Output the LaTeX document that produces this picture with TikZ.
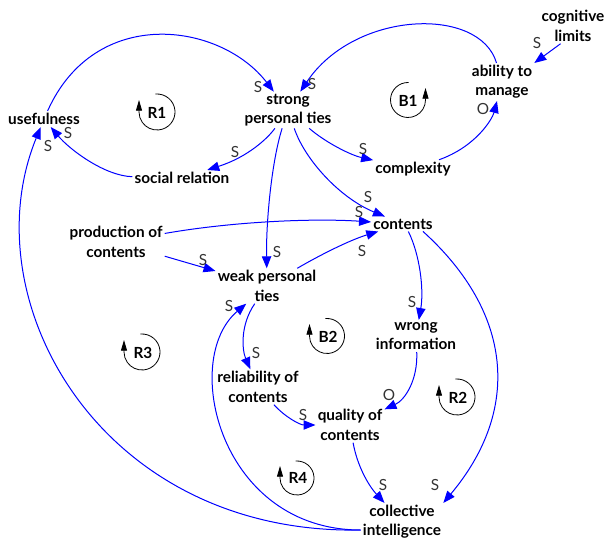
\documentclass[tikz,border=0pt]{standalone}
\usepackage{fontspec}
\setmainfont{Lato}
\usepackage{tikz}
\usetikzlibrary{arrows.meta}

\tikzset{
  var/.style={font=\fontsize{11.5}{14.5}\selectfont\bfseries, align=center, inner sep=1.5pt},
  pol/.style={font=\fontsize{11.5}{12}\selectfont, text=black!80, inner sep=0pt},
  link/.style={blue, line width=0.75pt, -{Triangle[length=9pt,width=7pt]}},
  loopmark/.style={black, line width=0.6pt, -{Triangle[length=8pt,width=4.5pt]}},
  loopname/.style={font=\fontsize{11.5}{12}\selectfont\bfseries, inner sep=0pt}
}

\begin{document}
\begin{tikzpicture}[x=0.75pt,y=-0.75pt]
  \useasboundingbox (0,0) rectangle (606,541);

  \node[var] (useful) at (44,119) {usefulness};
  \node[var] (strong) at (288,110) {strong\\personal ties};
  \node[var] (social) at (182,178) {social relation};
  \node[var] (complex) at (413,169) {complexity};
  \node[var] (ability) at (502,82) {ability to\\manage};
  \node[var] (cognit) at (573,26) {cognitive\\limits};
  \node[var] (contents) at (403,224) {contents};
  \node[var] (product) at (116,242) {production of\\contents};
  \node[var] (weak) at (267,286) {weak personal\\ties};
  \node[var] (wrong) at (416,336) {wrong\\information};
  \node[var] (reliab) at (258,387) {reliability of\\contents};
  \node[var] (quality) at (350,425) {quality of\\contents};
  \node[var] (collect) at (402,522) {collective\\intelligence};

  \draw[link] (useful) .. controls (95,5) and (220,22) .. (strong);
  \draw[link] (ability) .. controls (480,6) and (355,10) .. (strong);
  \draw[link] (strong) .. controls (268,138) and (248,157) .. (social);
  \draw[link] (social) .. controls (105,176) and (70,150) .. (useful);
  \draw[link] (strong) .. controls (325,142) and (350,155) .. (complex);
  \draw[link] (complex) .. controls (475,147) and (492,120) .. (ability);
  \draw[link] (cognit.235) -- (ability.north east);
  \draw[link] (strong) .. controls (305,160) and (340,198) .. (contents);
  \draw[link] (product) .. controls (230,222) and (310,218) .. (contents);
  \draw[link] (product) -- (weak);
  \draw[link] (strong) .. controls (272,160) and (266,220) .. (weak);
  \draw[link] (weak) .. controls (320,255) and (350,240) .. (contents);
  \draw[link] ([xshift=4pt]contents.south) .. controls (420,255) and (424,290) .. (wrong);
  \draw[link] ([xshift=15pt]contents.south) .. controls (512,312) and (522,409) .. (collect.north east);
  \draw[link] (wrong) .. controls (418,380) and (405,400) .. (quality);
  \draw[link] (weak) .. controls (240,325) and (242,350) .. (reliab);
  \draw[link] (reliab) .. controls (285,417) and (300,425) .. (quality);
  \draw[link] (quality) .. controls (357,465) and (368,485) .. (collect);
  \draw[link] ([yshift=-6pt]collect.west) .. controls (100,535) and (-30,300) .. (useful);
  \draw[link] ([yshift=-6pt]collect.west) .. controls (220,530) and (180,360) .. (weak);

  % polarities
  \node[pol] (s1) at (258,87) {S};
  \node[pol] (s2) at (312,84) {S};
  \node[pol] (s3) at (235,152) {S};
  \node[pol] (s4) at (68,133) {S};
  \node[pol] (s5) at (48,146) {S};
  \node[pol] (s6) at (363,149) {S};
  \node[pol] (o1) at (483,109) {O};
  \node[pol] (s7) at (537,43) {S};
  \node[pol] (s8) at (368,197) {S};
  \node[pol] (s9) at (359,212) {S};
  \node[pol] (s10) at (362,251) {S};
  \node[pol] (s11) at (277,252) {S};
  \node[pol] (s12) at (203,260) {S};
  \node[pol] (s13) at (412,302) {S};
  \node[pol] (o2) at (389,395) {O};
  \node[pol] (s14) at (435,485) {S};
  \node[pol] (s15) at (383,485) {S};
  \node[pol] (s16) at (256,353) {S};
  \node[pol] (s17) at (303,415) {S};
  \node[pol] (s18) at (229,306) {S};

  % loops
  \draw[loopmark] (157,112) ++(-95:18) arc[start angle=-95, end angle=180, radius=18] -- ++(0,-12);
  \node[loopname] (r1) at (157,113) {R1};
  \draw[loopmark] (408,100) ++(-88:17.5) arc[start angle=-88, end angle=-360, radius=17.5] -- ++(0,-12);
  \node[loopname] (b1) at (408,101) {B1};
  \draw[loopmark] (142,352) ++(-95:18) arc[start angle=-95, end angle=180, radius=18] -- ++(0,-12);
  \node[loopname] (r3) at (143,353) {R3};
  \draw[loopmark] (327,336) ++(-95:17.5) arc[start angle=-95, end angle=180, radius=17.5] -- ++(0,-12);
  \node[loopname] (b2) at (328,337) {B2};
  \draw[loopmark] (457,397) ++(-95:18) arc[start angle=-95, end angle=180, radius=18] -- ++(0,-12);
  \node[loopname] (r2) at (458,398) {R2};
  \draw[loopmark] (297,478) ++(-95:17) arc[start angle=-95, end angle=180, radius=17] -- ++(0,-12);
  \node[loopname] (r4) at (298,478) {R4};
\end{tikzpicture}
\end{document}
